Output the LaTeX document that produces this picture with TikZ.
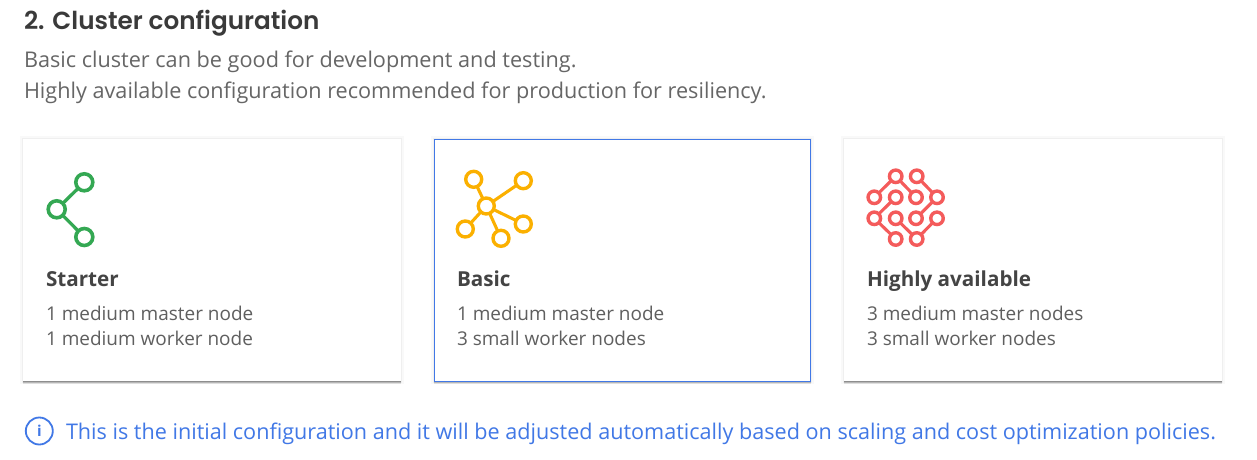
\documentclass[tikz,border=0pt]{standalone}
\usepackage{fontspec}
\setmainfont{Open Sans}
\newfontfamily\titlefont{Poppins SemiBold}
\usetikzlibrary{shadows}
\definecolor{inktitle}{HTML}{3A3A3A}
\definecolor{inktext}{HTML}{666666}
\definecolor{inkhead}{HTML}{444444}
\definecolor{inksmall}{HTML}{5F5F5F}
\definecolor{linkblue}{HTML}{4178E6}
\definecolor{iconA}{HTML}{34A853}
\definecolor{iconB}{HTML}{FBB000}
\definecolor{iconC}{HTML}{F45B5B}
\tikzset{
  card/.style={rectangle,fill=white,minimum width=377.6pt,minimum height=242pt,outer sep=0pt,inner sep=0pt,
    general shadow={fill=black,draw=black,opacity=.025,line width=6pt,shadow xshift=0pt,shadow yshift=0pt},
    general shadow={fill=black,draw=black,opacity=.04,line width=3pt,shadow xshift=0pt,shadow yshift=0pt},
    general shadow={fill=black,opacity=.1,shadow xshift=0pt,shadow yshift=-3pt},
    general shadow={fill=black,opacity=.15,shadow xshift=0pt,shadow yshift=-2pt},
    general shadow={fill=black,opacity=.22,shadow xshift=0pt,shadow yshift=-1pt}},
  txt/.style={anchor=base west,inner sep=0pt,outer sep=0pt},
  hub/.style={circle,draw=#1,fill=white,inner sep=0pt,outer sep=0pt},
  hubA/.style={hub=iconA,line width=3.6pt,minimum size=17pt},
  hubB/.style={hub=iconB,line width=3.4pt,minimum size=16pt},
  hubC/.style={hub=iconC,line width=3.4pt,minimum size=12.5pt},
}
\begin{document}
\begin{tikzpicture}[x=1pt,y=-1pt]
  \useasboundingbox[fill=white] (0,0) rectangle (1257,460);

  \node[txt,text=inktitle,font=\titlefont\fontsize{24.7}{28}\selectfont] (title) at (24,30) {2. Cluster configuration};
  \node[txt,text=inktext,font=\fontsize{21.65}{26}\selectfont] (introA) at (24,67) {Basic cluster can be good for development and testing.};
  \node[txt,text=inktext,font=\fontsize{21.65}{26}\selectfont] (introB) at (24,98) {Highly available configuration recommended for production for resiliency.};

  \node[card] (starter) at (212,260) {};
  \node[card,draw=linkblue,line width=0.9pt,minimum width=376.4pt] (basic) at (622.5,260) {};
  \node[card] (high) at (1033,260) {};

  % starter icon
  \node[hubA] (sa) at (84.3,182.3) {};
  \node[hubA] (sb) at (56.7,209.3) {};
  \node[hubA] (sc) at (84.3,237) {};
  \draw[iconA,line width=3.3pt] (sb) -- (sa);
  \draw[iconA,line width=3.3pt] (sb) -- (sc);

  % basic icon
  \node[hubB] (bm) at (486.3,206) {};
  \node[hubB] (ba) at (473.7,179.3) {};
  \node[hubB] (bb) at (523.3,180.7) {};
  \node[hubB] (bc) at (523.3,224) {};
  \node[hubB] (bd) at (501,238.3) {};
  \node[hubB] (be) at (465.3,229) {};
  \foreach \n in {ba,bb,bc,bd,be}
    \draw[iconB,line width=3.1pt] (bm) -- (\n);

  % highly available icon
  \node[hubC] (ha) at (895.7,176.3) {};
  \node[hubC] (hb) at (916.7,176.3) {};
  \node[hubC] (hc) at (874.3,197.3) {};
  \node[hubC] (hd) at (895.7,197.3) {};
  \node[hubC] (he) at (916,197.3) {};
  \node[hubC] (hf) at (937,197.3) {};
  \node[hubC] (hg) at (874.3,218.3) {};
  \node[hubC] (hh) at (895.7,218.3) {};
  \node[hubC] (hi) at (916,218.3) {};
  \node[hubC] (hj) at (937,218.3) {};
  \node[hubC] (hk) at (895.7,239) {};
  \node[hubC] (hl) at (916.7,239) {};
  \foreach \a/\b in {ha/hc,ha/he,hb/hf,hf/hi,hd/hg,hg/hk,hh/hl,hl/hj}
    \draw[iconC,line width=3.1pt] (\a) -- (\b);

  \node[txt,text=inkhead,font=\bfseries\fontsize{20.65}{24}\selectfont] (starterhead) at (46,286) {Starter};
  \node[txt,text=inksmall,font=\fontsize{18.97}{22}\selectfont] (starterA) at (46,320) {1 medium master node};
  \node[txt,text=inksmall,font=\fontsize{18.97}{22}\selectfont] (starterB) at (46,345) {1 medium worker node};

  \node[txt,text=inkhead,font=\bfseries\fontsize{20.65}{24}\selectfont] (basichead) at (457,286) {Basic};
  \node[txt,text=inksmall,font=\fontsize{18.97}{22}\selectfont] (basicA) at (457,320) {1 medium master node};
  \node[txt,text=inksmall,font=\fontsize{18.97}{22}\selectfont] (basicB) at (457,345) {3 small worker nodes};

  \node[txt,text=inkhead,font=\bfseries\fontsize{20.65}{24}\selectfont] (highhead) at (867,286) {Highly available};
  \node[txt,text=inksmall,font=\fontsize{18.97}{22}\selectfont] (highA) at (867,320) {3 medium master nodes};
  \node[txt,text=inksmall,font=\fontsize{18.97}{22}\selectfont] (highB) at (867,345) {3 small worker nodes};

  \node[circle,draw=linkblue,line width=1.8pt,minimum size=27pt,inner sep=0pt,text=linkblue,font=\bfseries\fontsize{15}{15}\selectfont] (info) at (39.3,431) {i};
  \node[txt,text=linkblue,font=\fontsize{21.6}{26}\selectfont] (note) at (66,439) {This is the initial configuration and it will be adjusted automatically based on scaling and cost optimization policies.};
\end{tikzpicture}
\end{document}
